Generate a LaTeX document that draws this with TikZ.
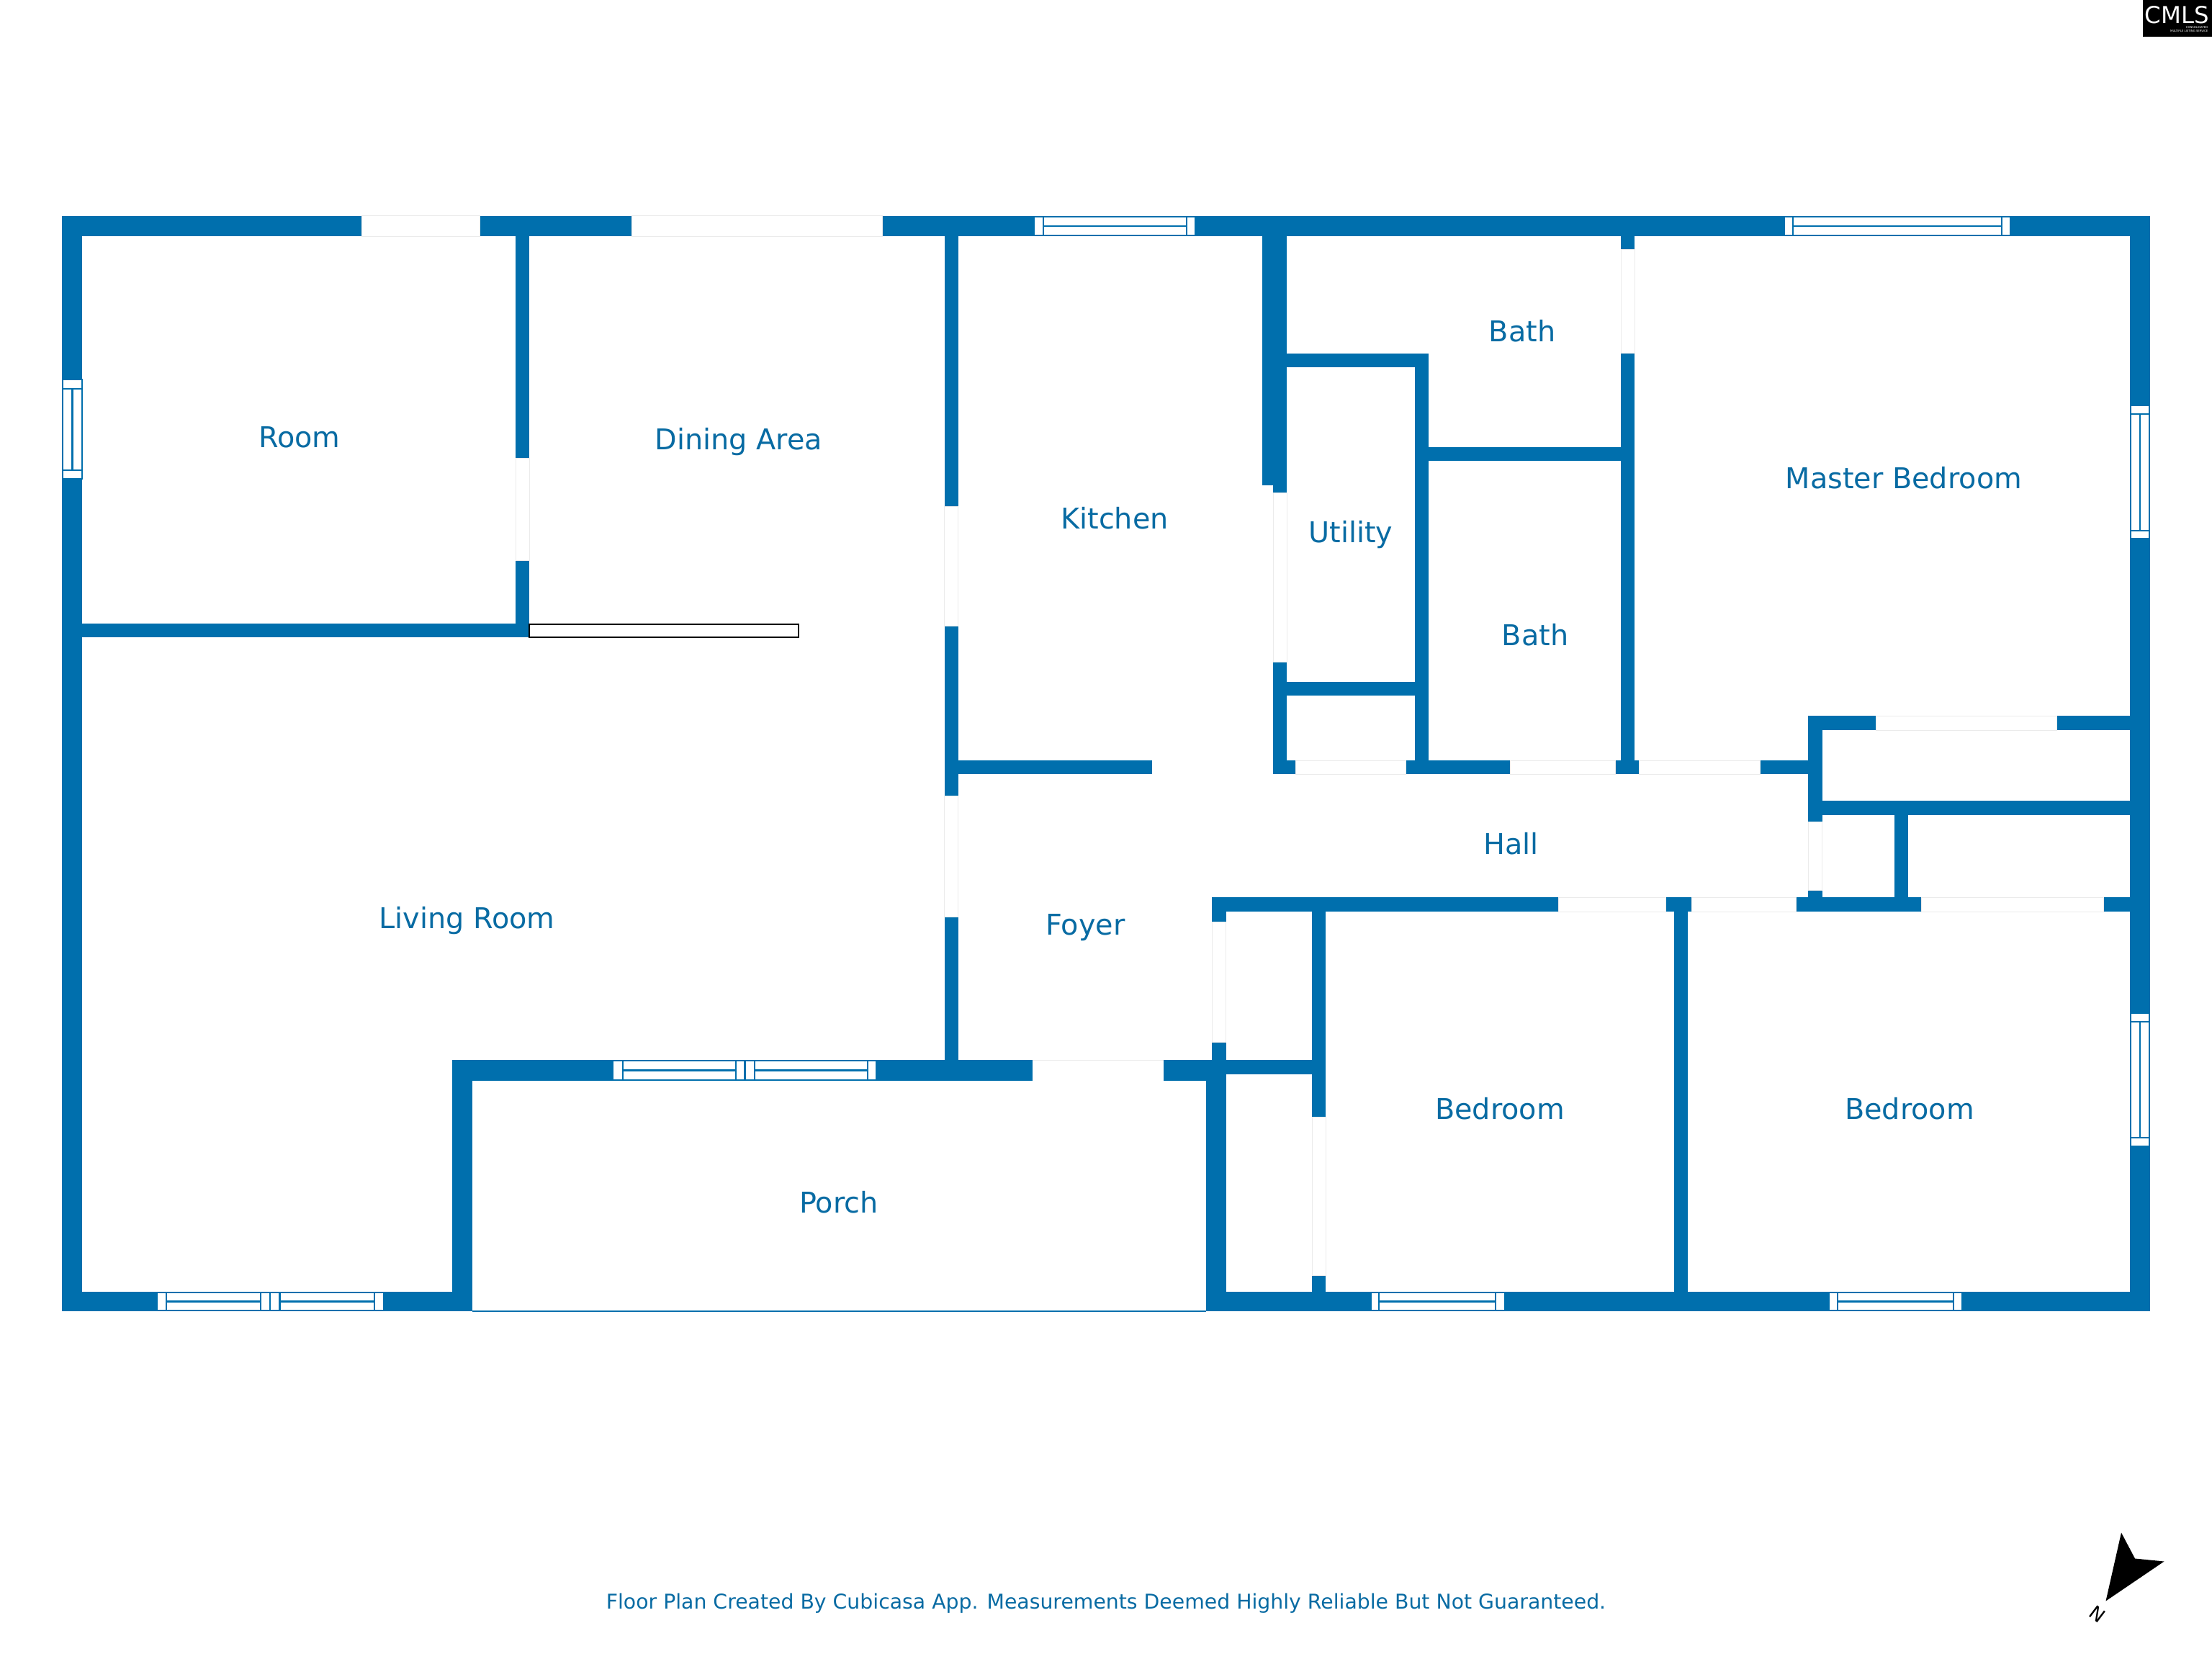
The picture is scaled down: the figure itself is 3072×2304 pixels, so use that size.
\documentclass[tikz,border=0pt]{standalone}
\usepackage{fontspec}
\setmainfont{DejaVu Sans}
\usepackage{xcolor}
\definecolor{wallblue}{RGB}{0,111,173}
\definecolor{textblue}{RGB}{8,107,163}

\begin{document}
\begin{tikzpicture}[x=0.01cm, y=-0.01cm,
  wall/.style={fill=wallblue},
  opening/.style={fill=white, draw=black!8, line width=0.25pt},
  pane/.style={draw=wallblue, line width=0.6pt},
  room/.style={text=textblue, font=\fontsize{11.3}{13}\selectfont, anchor=base, inner sep=0pt},
  glassdoor/.style={fill=white, draw=black, line width=0.6pt}]

\useasboundingbox (0,0) rectangle (3072,2304);
\fill[white] (0,0) rectangle (3072,2304);

% Draw the outer walls
\fill[wall] (86,300) rectangle (2986,328);
\fill[wall] (86,300) rectangle (114,1821);
\fill[wall] (2958,300) rectangle (2986,1821);
\fill[wall] (86,1794) rectangle (656,1821);
\fill[wall] (1675,1794) rectangle (2986,1821);
\draw[wallblue, line width=0.6pt] (656,1821) -- (1675,1821);

% Walls of room and dining area
\fill[wall] (716,300) rectangle (735,885);
\fill[wall] (114,866.5) rectangle (735,885);
\fill[wall] (1311.5,300) rectangle (1330.5,1472);

% Walls of the porch
\fill[wall] (627.5,1472) rectangle (1616,1500.5);
\fill[wall] (627.5,1472) rectangle (655.5,1821);
\fill[wall] (1616,1472) rectangle (1841,1491.5);
\fill[wall] (1616,1472) rectangle (1702.5,1500.5);
\fill[wall] (1674.5,1472) rectangle (1702.5,1821);
\fill[wall] (1683,1246) rectangle (1702.5,1491);

% Kitchen and foyer
\fill[wall] (1330,1056.5) rectangle (1600,1075);
\fill[wall] (1753,300) rectangle (1787,674.5);
\fill[wall] (1768,674) rectangle (1787,1075);

% Utility and baths
\fill[wall] (1787,491) rectangle (1984,510);
\fill[wall] (1964.5,491) rectangle (1984,1075);
\fill[wall] (1964.5,621) rectangle (2270,640);
\fill[wall] (1787,947) rectangle (1964.5,966);
\fill[wall] (2251,300) rectangle (2270,1075);
\fill[wall] (1768,1056.5) rectangle (2511,1075);

% Closets on the hall
\fill[wall] (2511,994) rectangle (2530.5,1266);
\fill[wall] (2511,994) rectangle (2958,1014);
\fill[wall] (2530,1112) rectangle (2958,1132);
\fill[wall] (2631,1132) rectangle (2650,1266);

% Bedrooms
\fill[wall] (1683,1246) rectangle (2958,1266);
\fill[wall] (1822,1266) rectangle (1841,1794);
\fill[wall] (2325,1266) rectangle (2344,1794);

% Door openings
\fill[opening] (502,299.5) rectangle (666,328.5);
\fill[opening] (877,299.5) rectangle (1225,328.5);
\fill[opening] (716,636) rectangle (735,778);
\fill[opening] (1311.5,703) rectangle (1330.5,869);
\fill[opening] (1311.5,1105.5) rectangle (1330.5,1273);
\fill[white] (1433.5,1472) rectangle (1616,1501);
\draw[black!8, line width=0.25pt] (1433.5,1472) -- (1616,1472);
\fill[opening] (1768,684) rectangle (1787,919);
\fill[opening] (2251,346) rectangle (2270,490);
\fill[opening] (1799,1056) rectangle (1952,1075.5);
\fill[opening] (2097,1056) rectangle (2243,1075.5);
\fill[opening] (2276,1056) rectangle (2444,1075.5);
\fill[opening] (2605,994) rectangle (2856,1014);
\fill[opening] (2511,1141) rectangle (2530.5,1236);
\fill[opening] (2164,1246) rectangle (2313,1266);
\fill[opening] (2349,1246) rectangle (2494,1266);
\fill[opening] (2668,1246) rectangle (2921,1266);
\fill[opening] (1683,1280.5) rectangle (1702.5,1447);
\fill[opening] (1822,1551) rectangle (1841,1771);

% Glass door below the dining area
\filldraw[glassdoor] (735,867) rectangle (1109,885);

% Windows along the horizontal walls
\foreach \xa/\xb/\xc/\xd/\ya/\yb in {1436/1449/1648/1660/301/327,
    2478/2490/2780/2792/301/327, 1904/1915/2077/2090/1795/1820,
    2540/2552/2713/2725/1795/1820}{
  \filldraw[pane, fill=white] (\xa,\ya) rectangle (\xd,\yb);
  \draw[pane] (\xb,\ya) -- (\xb,\yb) (\xc,\ya) -- (\xc,\yb);
  \draw[pane] (\xb,{(\ya+\yb)/2}) -- (\xc,{(\ya+\yb)/2});
}

% Double windows
\foreach \xa/\xb/\xc/\xd/\xe/\xf/\xg/\ya/\yb in {851/865/1022/1034.5/1048/1205/1217.5/1473/1500,
    218/231/362/375/388.5/520/533/1795/1820}{
  \filldraw[pane, fill=white] (\xa,\ya) rectangle (\xg,\yb);
  \draw[pane] (\xb,\ya) -- (\xb,\yb) (\xc,\ya) -- (\xc,\yb);
  \draw[pane] (\xd,\ya) -- (\xd,\yb) (\xe,\ya) -- (\xe,\yb) (\xf,\ya) -- (\xf,\yb);
  \draw[pane] (\xb,{(\ya+\yb)/2}) -- (\xc,{(\ya+\yb)/2});
  \draw[pane] (\xe,{(\ya+\yb)/2}) -- (\xf,{(\ya+\yb)/2});
}

% Windows along the vertical walls
\foreach \ya/\yb/\yc/\yd/\xa/\xb in {527/540/653/665/87/114,
    563/575/737/748/2959/2985, 1407/1419/1580/1592/2959/2985}{
  \filldraw[pane, fill=white] (\xa,\ya) rectangle (\xb,\yd);
  \draw[pane] (\xa,\yb) -- (\xb,\yb) (\xa,\yc) -- (\xb,\yc);
  \draw[pane] ({(\xa+\xb)/2},\yb) -- ({(\xa+\xb)/2},\yc);
}

% Place the room labels
\node[room] (room) at (416,622) {Room};
\node[room] (dining) at (1026,625) {Dining Area};
\node[room] (kitchen) at (1548,735) {Kitchen};
\node[room] (utility) at (1876,754) {Utility};
\node[room] (bathtop) at (2114,475) {Bath};
\node[room] (bathlow) at (2132,897) {Bath};
\node[room] (master) at (2644,679) {Master Bedroom};
\node[room] (hall) at (2098.5,1186) {Hall};
\node[room] (foyer) at (1507.5,1298.5) {Foyer};
\node[room] (living) at (648.5,1289.5) {Living Room};
\node[room] (porch) at (1165,1684) {Porch};
\node[room] (bedleft) at (2083,1554) {Bedroom};
\node[room] (bedright) at (2652,1554) {Bedroom};
\node[room, font=\fontsize{8.05}{10}\selectfont] (credit) at (1536,2234)
  {Floor Plan Created By Cubicasa App. Measurements Deemed Highly Reliable But Not Guaranteed.};

% North arrow
\fill[black] (2946,2128.5) -- (2965,2164.5) -- (3005.5,2168.5) -- (2924.5,2223.5) -- cycle;
\node[rotate=-37, font=\fontsize{7.4}{9}\selectfont, inner sep=0pt] (north) at (2912.5,2241.5) {N};

% Logo in the corner
\fill[black] (2976,0) rectangle (3072,51);
\node[text=white, anchor=base, inner sep=0pt, font=\fontsize{9.2}{11}\selectfont] (logo) at (3023,33) {CMLS};
\node[text=white, anchor=base east, inner sep=0pt, font=\fontsize{1.1}{2}\selectfont] (logoa) at (3067,40) {CONSOLIDATED};
\node[text=white, anchor=base east, inner sep=0pt, font=\fontsize{1.1}{2}\selectfont] (logob) at (3067,45) {MULTIPLE LISTING SERVICE};

\end{tikzpicture}
\end{document}
